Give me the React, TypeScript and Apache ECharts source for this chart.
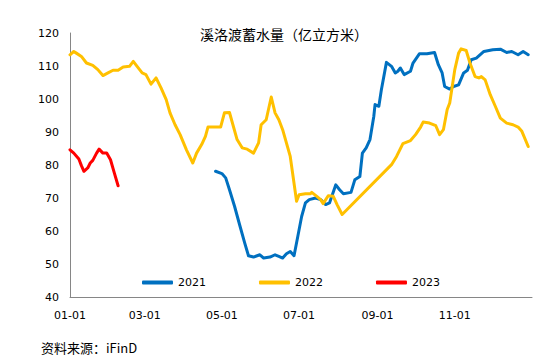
import React, { useEffect, useRef } from "react";
import * as echarts from "echarts";

const titleText = "溪洛渡蓄水量（亿立方米）";
const sourceText = "资料来源：iFinD";
const xTickDates = ["01-01", "03-01", "05-01", "07-01", "09-01", "11-01"];
const seriesNames = ["2021", "2022", "2023"];
const seriesColors = ["#0070C0", "#FFC000", "#FF0000"];

const dates2021 = [
  "04-26", "05-01", "05-04", "05-07", "05-11", "05-15", "05-19", "05-22", "05-26", "05-31",
  "06-03", "06-08", "06-12", "06-15", "06-18", "06-21", "06-24", "06-27", "06-30", "07-03",
  "07-06", "07-09", "07-14", "07-18", "07-22", "07-25", "07-30", "08-02", "08-05", "08-11",
  "08-14", "08-18", "08-20", "08-23", "08-26", "08-29", "08-30", "09-02", "09-04", "09-08",
  "09-12", "09-15", "09-17", "09-19", "09-22", "09-27", "09-29", "10-04", "10-10", "10-16",
  "10-19", "10-22", "10-24", "10-28", "10-31", "11-04", "11-08", "11-11", "11-14", "11-18",
  "11-24", "12-01", "12-07", "12-12", "12-16", "12-21", "12-25", "12-29",
];
const values2021 = [
  78.1, 77.4, 76.1, 72.5, 67.5, 61.9, 56.4, 52.5, 52.1, 52.8,
  51.8, 52.1, 52.8, 52.3, 51.8, 53.1, 53.8, 52.5, 58.4, 64.4,
  68.5, 69.5, 70.0, 69.5, 68.0, 68.5, 74.0, 72.5, 71.3, 71.7,
  75.5, 76.5, 83.6, 85.2, 87.7, 94.7, 98.3, 97.8, 102.8, 111.1,
  109.9, 107.9, 108.4, 109.4, 107.4, 108.4, 110.9, 113.7, 113.7, 114.1,
  110.4, 107.9, 103.8, 103.0, 103.8, 104.3, 107.9, 108.7, 111.9, 112.4,
  114.4, 114.9, 115.1, 114.1, 114.4, 113.4, 114.4, 113.4,
];

const dates2022 = [
  "01-01", "01-04", "01-06", "01-10", "01-14", "01-19", "01-23", "01-27", "01-31", "02-04",
  "02-08", "02-12", "02-17", "02-20", "02-23", "02-27", "03-02", "03-06", "03-10", "03-14",
  "03-18", "03-21", "03-25", "03-29", "04-03", "04-08", "04-11", "04-15", "04-18", "04-20",
  "04-30", "05-03", "05-07", "05-13", "05-17", "05-21", "05-26", "05-30", "06-01", "06-05",
  "06-09", "06-12", "06-15", "06-18", "06-24", "06-29", "07-01", "07-06", "07-10", "07-11",
  "07-15", "07-18", "07-20", "07-24", "07-28", "07-31", "08-04", "09-12", "09-16", "09-21",
  "09-27", "10-01", "10-05", "10-07", "10-12", "10-17", "10-20", "10-23", "10-26", "10-28",
  "11-01", "11-04", "11-06", "11-10", "11-13", "11-17", "11-20", "11-22", "11-25", "11-29",
  "12-03", "12-07", "12-12", "12-17", "12-21", "12-24", "12-29",
];
const values2022 = [
  113.4, 114.4, 113.9, 112.9, 110.9, 110.2, 108.9, 107.1, 107.9, 108.7,
  108.7, 109.7, 109.9, 111.4, 109.9, 107.9, 107.4, 104.5, 106.4, 103.3,
  99.8, 95.8, 92.2, 89.2, 84.6, 80.6, 83.6, 86.2, 88.7, 91.5,
  91.5, 95.8, 95.9, 87.7, 85.2, 84.8, 83.6, 86.7, 92.2, 93.7,
  100.6, 95.8, 93.7, 90.7, 82.6, 69.0, 71.0, 71.3, 71.3, 71.7,
  70.5, 69.5, 68.3, 70.7, 70.5, 68.0, 65.0, 80.1, 82.6, 86.5,
  87.4, 89.2, 91.5, 93.0, 92.7, 91.9, 89.2, 90.7, 96.8, 98.8,
  108.9, 113.9, 115.2, 114.7, 110.9, 106.8, 106.4, 106.8, 105.8, 101.3,
  97.8, 94.2, 92.7, 92.2, 91.5, 90.2, 85.6,
];

const dates2023 = [
  "01-01", "01-04", "01-08", "01-10", "01-12", "01-15", "01-17", "01-19", "01-22", "01-24",
  "01-27", "01-30", "02-02", "02-05", "02-08",
];
const values2023 = [
  84.6, 83.6, 81.8, 79.8, 78.1, 79.1, 80.6, 81.4, 83.6, 84.8,
  83.6, 83.6, 81.6, 77.6, 73.7,
];

const DAY = 86400000;
function dayOfYear(md: string): number {
  const [m, d] = md.split("-").map(Number);
  return (Date.UTC(2021, m - 1, d) - Date.UTC(2021, 0, 1)) / DAY;
}
function dayLabel(v: number): string {
  const dt = new Date(Date.UTC(2021, 0, 1) + Math.round(v) * DAY);
  const mm = String(dt.getUTCMonth() + 1).padStart(2, "0");
  const dd = String(dt.getUTCDate()).padStart(2, "0");
  return `${mm}-${dd}`;
}
function toPairs(dates: string[], values: number[]) {
  return dates.map((d, i) => [dayOfYear(d), values[i]]);
}

const allDates = [dates2021, dates2022, dates2023];
const allValues = [values2021, values2022, values2023];

const numFont = "'DejaVu Sans', sans-serif";
const cjkFont = "'Noto Sans CJK SC', 'Noto Sans', sans-serif";

export default function App() {
  const ref = useRef<HTMLDivElement>(null);
  useEffect(() => {
    if (!ref.current) return;
    const chart = echarts.init(ref.current, undefined, { renderer: "svg" });
    const option: any = {
      animation: false,
      backgroundColor: "#ffffff",
      grid: { left: 70, right: 23, top: 33, bottom: 67, containLabel: false },
      xAxis: {
        type: "value",
        min: 0,
        max: 365,
        axisLine: { show: true, lineStyle: { color: "#868686", width: 1 } },
        axisTick: { show: false },
        splitLine: { show: false },
        axisLabel: {
          customValues: xTickDates.map(dayOfYear),
          formatter: (v: number) => dayLabel(v),
          fontFamily: numFont,
          fontSize: 11,
          color: "#000000",
          margin: 13,
        },
      },
      yAxis: {
        type: "value",
        min: 40,
        max: 120,
        interval: 10,
        axisLine: { show: true, lineStyle: { color: "#868686", width: 1 } },
        axisTick: { show: false },
        splitLine: { show: false },
        axisLabel: {
          fontFamily: numFont,
          fontSize: 11,
          color: "#000000",
          margin: 11,
        },
      },
      legend: {
        data: seriesNames,
        left: 137,
        top: 272,
        icon: "roundRect",
        itemWidth: 31,
        itemHeight: 4,
        itemGap: 53,
        textStyle: { fontFamily: numFont, fontSize: 11, color: "#000000" },
      },
      graphic: [
        {
          type: "text",
          left: 200,
          top: 27,
          style: {
            text: titleText,
            fontFamily: cjkFont,
            fontSize: 14,
            fill: "#000000",
          },
        },
        {
          type: "text",
          left: 41,
          top: 341,
          style: {
            text: sourceText,
            fontFamily: cjkFont,
            fontSize: 13,
            fill: "#000000",
          },
        },
      ],
      series: seriesNames.map((name, i) => ({
        name,
        type: "line",
        data: toPairs(allDates[i], allValues[i]),
        showSymbol: false,
        symbol: "none",
        color: seriesColors[i],
        lineStyle: { width: 3, color: seriesColors[i], cap: "round", join: "round" },
      })),
    };
    chart.setOption(option);
    return () => chart.dispose();
  }, []);
  return (
    <div
      ref={ref}
      style={{ position: "absolute", left: 0, top: 0, width: 555, height: 364, background: "#fff" }}
    />
  );
}
